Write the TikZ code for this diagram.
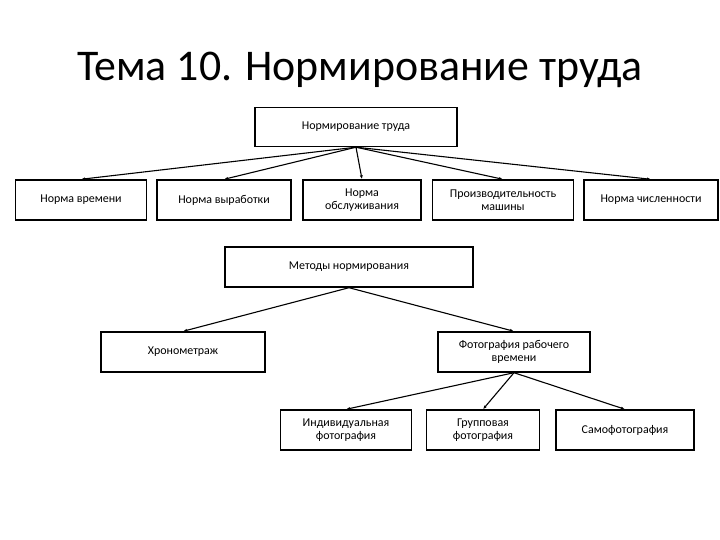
\documentclass[tikz,border=0pt]{standalone}
\usepackage{fontspec}
\setmainfont{Carlito}
\usetikzlibrary{arrows.meta}
\begin{document}
\begin{tikzpicture}[x=1bp,y=-1bp,
  box/.style={draw,line width=1.4bp,minimum width=#1,minimum height=40bp,align=center,font=\fontsize{12}{13.5}\selectfont,inner sep=1bp},
  arr/.style={-{Latex[length=4bp,width=3bp]},line width=1.1bp}]
\useasboundingbox (0,0) rectangle (720,540);
\node (title) at (360,70) {\fontsize{44}{50}\selectfont Тема 10. Нормирование труда};
\node[box=202bp,minimum height=39bp] (top) at (356,127) {Нормирование труда};
\node[box=131bp] (r1) at (81,200) {Норма времени};
\node[box=134bp] (r2) at (224,200) {Норма выработки};
\node[box=118bp] (r3) at (362,200) {Норма\\обслуживания};
\node[box=141bp] (r4) at (503,200) {Производительность\\машины};
\node[box=134bp] (r5) at (651,200) {Норма численности};
\node[box=248bp] (met) at (349,267) {Методы нормирования};
\node[box=164bp] (hr) at (183,352) {Хронометраж};
\node[box=152bp] (foto) at (514,352) {Фотография рабочего\\времени};
\node[box=131bp] (f1) at (346,430) {Индивидуальная\\фотография};
\node[box=113bp] (f2) at (483,430) {Групповая\\фотография};
\node[box=138bp] (f3) at (625,430) {Самофотография};
\foreach \n in {r1,r2,r3,r4,r5} \draw[arr] (top.south) -- (\n.north);
\foreach \n in {hr,foto} \draw[arr] (met.south) -- (\n.north);
\foreach \n in {f1,f2,f3} \draw[arr] (foto.south) -- (\n.north);
\end{tikzpicture}
\end{document}
